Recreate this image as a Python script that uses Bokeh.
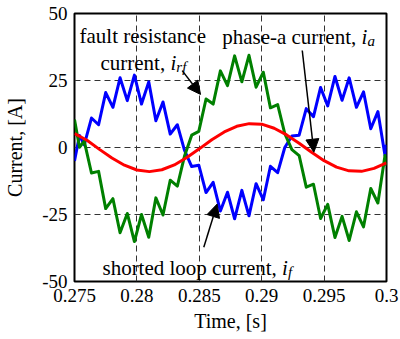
from bokeh.plotting import figure
from bokeh.models import Range1d, FixedTicker, Label, Arrow, NormalHead
from bokeh.embed import file_html
from bokeh.resources import INLINE

# ---- data ----
t_phase = [0.275, 0.276, 0.277, 0.278, 0.279, 0.280, 0.281, 0.282, 0.283, 0.284,
           0.285, 0.286, 0.287, 0.288, 0.289, 0.290, 0.291, 0.292, 0.293, 0.294,
           0.295, 0.296, 0.297, 0.298, 0.299, 0.300]
i_a = [5.2, 2.7, -0.7, -3.9, -6.6, -8.4, -9.0, -8.3, -6.5, -3.7,
       -0.5, 2.9, 5.8, 7.9, 8.9, 8.7, 7.2, 4.7, 1.6, -1.8,
       -4.9, -7.3, -8.7, -8.9, -7.8, -5.7]

t_loop = [0.27500, 0.27540, 0.27578, 0.27636, 0.27693, 0.27750, 0.27808, 0.27865,
          0.27923, 0.27980, 0.28037, 0.28095, 0.28152, 0.28209, 0.28267, 0.28324,
          0.28381, 0.28439, 0.28496, 0.28554, 0.28611, 0.28669, 0.28726, 0.28783,
          0.28841, 0.28898, 0.28955, 0.29013, 0.29070, 0.29128, 0.29185, 0.29242,
          0.29300, 0.29357, 0.29415, 0.29472, 0.29529, 0.29587, 0.29644, 0.29701,
          0.29759, 0.29816, 0.29874, 0.29931, 0.29988, 0.30000]
i_f = [-5.0, 4.5, 1.0, 11.0, 8.5, 20.5, 15.0, 26.0,
       17.5, 27.0, 16.2, 24.5, 10.0, 17.0, 5.0, 8.5,
       -1.0, -7.1, -6.6, -16.8, -13.0, -23.7, -16.7, -26.6,
       -16.0, -25.5, -13.5, -19.5, -7.0, -9.4, 0.0, 4.3,
       4.6, 14.5, 11.5, 22.4, 15.5, 26.5, 17.6, 26.0,
       15.0, 20.8, 7.0, 13.4, -3.0, 1.0]
i_rf = [10.4, 0.1, 2.4, -9.5, -8.9, -22.8, -19.1, -31.8,
        -24.6, -35.1, -25.0, -33.5, -18.8, -25.2, -12.2, -14.4,
        -3.3, 4.6, 6.0, 18.1, 16.2, 28.6, 23.1, 34.2,
        24.5, 34.4, 22.5, 28.1, 14.8, 16.0, 5.2, -0.8,
        -3.0, -14.8, -13.7, -26.5, -21.2, -33.6, -25.7, -34.7,
        -24.0, -29.6, -15.3, -20.7, -3.0, -6.7]

x_ticks = [0.275, 0.28, 0.285, 0.29, 0.295, 0.3]
x_tick_labels = ["0.275", "0.28", "0.285", "0.29", "0.295", "0.3"]
y_ticks = [-50, -25, 0, 25, 50]
y_tick_labels = ["-50", "-25", "0", "25", "50"]

FONT = "Liberation Serif"

p = figure(width=400, height=339, output_backend="svg", toolbar_location=None,
           x_range=Range1d(0.275, 0.3), y_range=Range1d(-50, 50),
           min_border_left=74, min_border_right=14, min_border_top=13,
           min_border_bottom=58, background_fill_color="white",
           border_fill_color="white")

p.line(t_loop, i_f, line_color="#0000ff", line_width=3, line_join="round")
p.line(t_loop, i_rf, line_color="#008000", line_width=3, line_join="round")
p.line(t_phase, i_a, line_color="#ff0000", line_width=3, line_join="round")

# axes
p.xaxis.ticker = FixedTicker(ticks=x_ticks)
p.xaxis.major_label_overrides = dict(zip(x_ticks, x_tick_labels))
p.yaxis.ticker = FixedTicker(ticks=y_ticks)
p.yaxis.major_label_overrides = dict(zip(y_ticks, y_tick_labels))
for ax in (p.xaxis, p.yaxis):
    ax.axis_line_color = None
    ax.major_tick_line_color = None
    ax.minor_tick_line_color = None
    ax.major_tick_out = 0
    ax.major_tick_in = 0
    ax.major_label_text_font = FONT
    ax.major_label_text_font_size = "19px"
    ax.major_label_text_color = "black"
    ax.axis_label_text_font = FONT
    ax.axis_label_text_font_size = "20px"
    ax.axis_label_text_font_style = "normal"
    ax.axis_label_text_color = "black"
p.xaxis.axis_label = "Time, [s]"
p.yaxis.axis_label = "Current, [A]"
p.xaxis.major_label_standoff = 7
p.yaxis.major_label_standoff = 7
p.xaxis.axis_label_standoff = 5
p.yaxis.axis_label_standoff = 13

p.xgrid.ticker = FixedTicker(ticks=x_ticks[1:-1])
p.ygrid.ticker = FixedTicker(ticks=y_ticks[1:-1])
for g in (p.xgrid, p.ygrid):
    g.grid_line_color = "#333333"
    g.grid_line_dash = "6 4"
    g.grid_line_width = 1

p.outline_line_color = "black"
p.outline_line_width = 2
p.outline_line_alpha = 1.0

# annotations
def lab(x, y, text, size="21px", style="normal"):
    p.add_layout(Label(x=x, y=y, text=text, text_font=FONT, text_font_size=size,
                       text_font_style=style, text_color="black",
                       text_align="left", text_baseline="alphabetic"))

lab(0.27540, 41.5, "fault resistance")
lab(0.27708, 31.6, "current,")
lab(0.28269, 31.6, "i", style="italic")
lab(0.28316, 30.0, "rf", size="15px", style="italic")

lab(0.28683, 41.2, "phase-a current,")
lab(0.29800, 41.2, "i", style="italic")
lab(0.29847, 39.7, "a", size="15px", style="italic")

lab(0.27724, -45.0, "shorted loop current,")
lab(0.29163, -45.0, "i", style="italic")
lab(0.29210, -46.5, "f", size="15px", style="italic")

def arrow(x0, y0, x1, y1):
    p.add_layout(Arrow(end=NormalHead(size=13, fill_color="black", line_color="black",
                                      line_width=1),
                       x_start=x0, y_start=y0, x_end=x1, y_end=y1,
                       line_color="black", line_width=1.5))

arrow(0.28363, 28.7, 0.28510, 19.8)
arrow(0.29325, 36.2, 0.29418, -1.75)
arrow(0.28536, -37.2, 0.28643, -21.1)

open("out.html", "w").write(file_html(p, INLINE))
